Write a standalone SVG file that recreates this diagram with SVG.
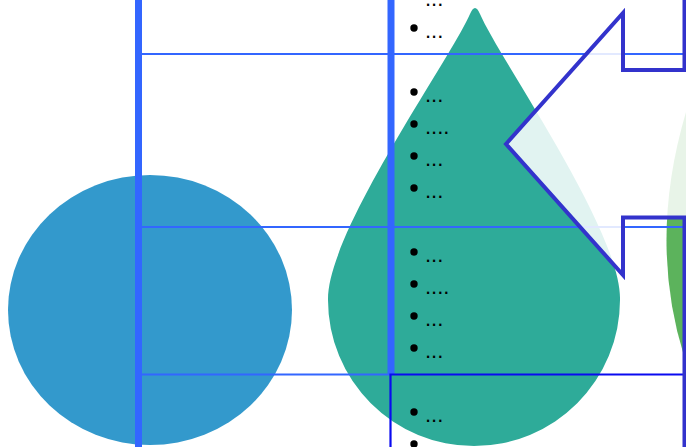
<svg xmlns="http://www.w3.org/2000/svg" width="686" height="447" viewBox="0 0 686 447">
  <style>
    .thick { stroke: #3366ff; stroke-width: 7; fill: none; }
    .thin { stroke: #3366ff; stroke-width: 2.2; fill: none; }
    .box { stroke: #0a0af0; stroke-width: 2.2; fill: none; }
    .dot { fill: #000000; }
    .t { font-family: "Liberation Sans", Arial, sans-serif; font-size: 22px; fill: #000000; }
    .arrow { fill: #ffffff; fill-opacity: 0.86; stroke: #3333cc; stroke-width: 4; stroke-linejoin: miter; stroke-miterlimit: 10; }
  </style>
  <rect width="686" height="447" fill="#ffffff"/>

  <g id="circle-node">
    <ellipse cx="150" cy="310" rx="142" ry="135" fill="#3399cc"/>
  </g>

  <g id="drop-node">
    <path d="M 328,300 C 327,232 450,60 470,14 Q 475,2 480,14 C 500,60 622,232 620,300 A 146 146 0 0 1 328,300 Z" fill="#2eab99"/>
  </g>

  <g id="green-node">
    <path d="M 686,112 Q 648,240 684,356 L 700,356 L 700,112 Z" fill="#5cb35c"/>
  </g>

  <g id="connectors">
    <line class="thin" x1="139" y1="54" x2="686" y2="54"/>
    <line class="thin" x1="139" y1="227" x2="686" y2="227"/>
    <line class="thin" x1="139" y1="374.5" x2="391" y2="374.5"/>
    <line class="thick" x1="138.5" y1="0" x2="138.5" y2="447"/>
    <line class="thick" x1="391" y1="0" x2="391" y2="374"/>
    <path class="box" d="M 390.5,460 L 390.5,374.5 L 700,374.5"/>
  </g>

  <g id="list">
    <circle class="dot" cx="414" cy="-4" r="3.7"/><text class="t" x="425" y="6">...</text>
    <circle class="dot" cx="414" cy="28" r="3.7"/><text class="t" x="425" y="38">...</text>
    <circle class="dot" cx="414" cy="92" r="3.7"/><text class="t" x="425" y="102">...</text>
    <circle class="dot" cx="414" cy="124" r="3.7"/><text class="t" x="425" y="134">....</text>
    <circle class="dot" cx="414" cy="156" r="3.7"/><text class="t" x="425" y="166">...</text>
    <circle class="dot" cx="414" cy="188" r="3.7"/><text class="t" x="425" y="198">...</text>
    <circle class="dot" cx="414" cy="252" r="3.7"/><text class="t" x="425" y="262">...</text>
    <circle class="dot" cx="414" cy="284" r="3.7"/><text class="t" x="425" y="294">....</text>
    <circle class="dot" cx="414" cy="316" r="3.7"/><text class="t" x="425" y="326">...</text>
    <circle class="dot" cx="414" cy="348" r="3.7"/><text class="t" x="425" y="358">...</text>
    <circle class="dot" cx="414" cy="412" r="3.7"/><text class="t" x="425" y="422">...</text>
    <circle class="dot" cx="414" cy="444" r="3.7"/><text class="t" x="425" y="454">...</text>
  </g>

  <g id="arrow-node">
    <path class="arrow" d="M 506,144 L 623,13 L 623,70 L 684.5,70 L 684.5,-10 L 700,-10 L 700,460 L 684.5,460 L 684.5,217.5 L 623,217.5 L 623,275 Z"/>
  </g>
</svg>
